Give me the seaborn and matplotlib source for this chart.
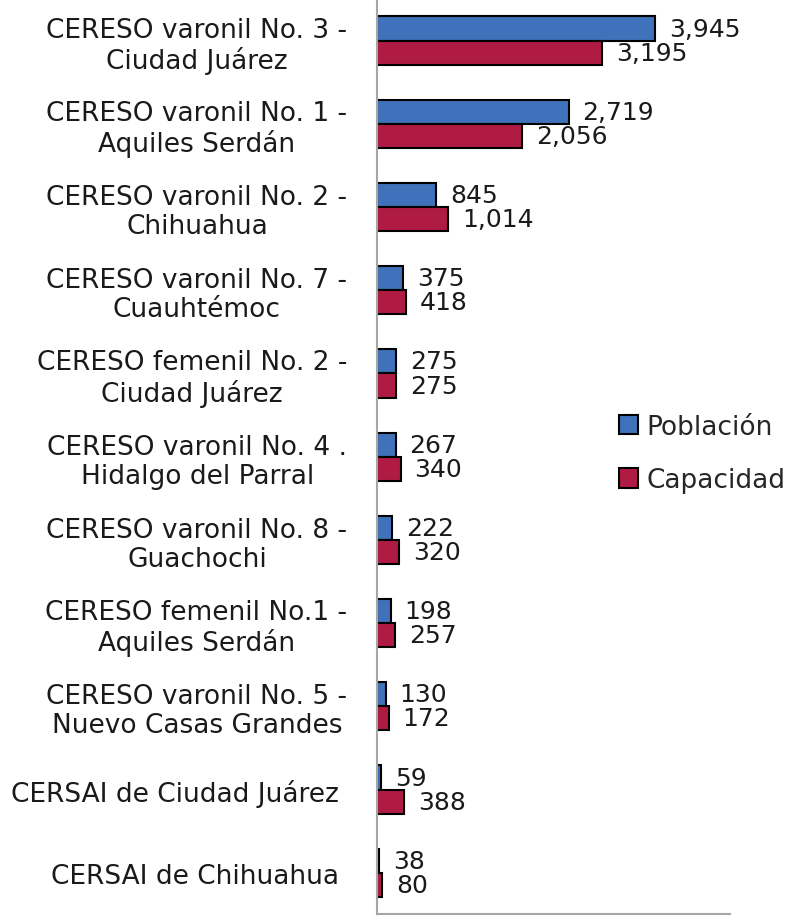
import pandas as pd
import matplotlib
matplotlib.use("Agg")
import matplotlib.pyplot as plt
import seaborn as sns

centros = [
    "CERESO varonil No. 3 -\nCiudad Juárez",
    "CERESO varonil No. 1 -\nAquiles Serdán",
    "CERESO varonil No. 2 -\nChihuahua",
    "CERESO varonil No. 7 -\nCuauhtémoc",
    "CERESO femenil No. 2 -\nCiudad Juárez",
    "CERESO varonil No. 4 .\nHidalgo del Parral",
    "CERESO varonil No. 8 -\nGuachochi",
    "CERESO femenil No.1 -\nAquiles Serdán",
    "CERESO varonil No. 5 -\nNuevo Casas Grandes",
    "CERSAI de Ciudad Juárez ",
    "CERSAI de Chihuahua ",
]
poblacion = [3945, 2719, 845, 375, 275, 267, 222, 198, 130, 59, 38]
capacidad = [3195, 2056, 1014, 418, 275, 340, 320, 257, 172, 388, 80]
series = ["Población", "Capacidad"]
colores = ["#3F72BA", "#B01B44"]

df = pd.DataFrame({
    "centro": centros * 2,
    "valor": poblacion + capacidad,
    "serie": [series[0]] * len(centros) + [series[1]] * len(centros),
})

sns.set_style("white")
plt.rcParams["font.family"] = ["DejaVu Sans"]

fig = plt.figure(figsize=(7.88, 9.2), dpi=100)
ax = fig.add_axes([0.478, 0.005, 0.448, 0.995])

sns.barplot(
    data=df, y="centro", x="valor", hue="serie", orient="h",
    palette=colores, width=0.58, edgecolor="black", linewidth=1.5,
    ax=ax, saturation=1,
)

for cont in ax.containers:
    ax.bar_label(cont, labels=[f"{v:,.0f}" for v in cont.datavalues],
                 padding=10, fontsize=18, color="#1a1a1a")

ax.set_xlim(0, 5000)
ax.set_ylim(10.5, -0.5)
ax.set_xlabel("")
ax.set_ylabel("")
ax.set_xticks([])
ax.tick_params(axis="y", length=0, pad=21, labelsize=19)
for lbl in ax.get_yticklabels():
    lbl.set_multialignment("center")
    lbl.set_linespacing(1.15)
    lbl.set_color("#1a1a1a")

for s in ["top", "right"]:
    ax.spines[s].set_visible(False)
for s in ["left", "bottom"]:
    ax.spines[s].set_color("#a6a6a6")
    ax.spines[s].set_linewidth(1.5)

ax.legend(
    loc="center left", bbox_to_anchor=(0.785, 0.506),
    bbox_transform=fig.transFigure, frameon=False,
    fontsize=19, handlelength=0.75, handleheight=0.75, handletextpad=0.3,
    labelspacing=1.05, borderpad=0, borderaxespad=0,
)

fig.savefig("out.png", dpi=100)
